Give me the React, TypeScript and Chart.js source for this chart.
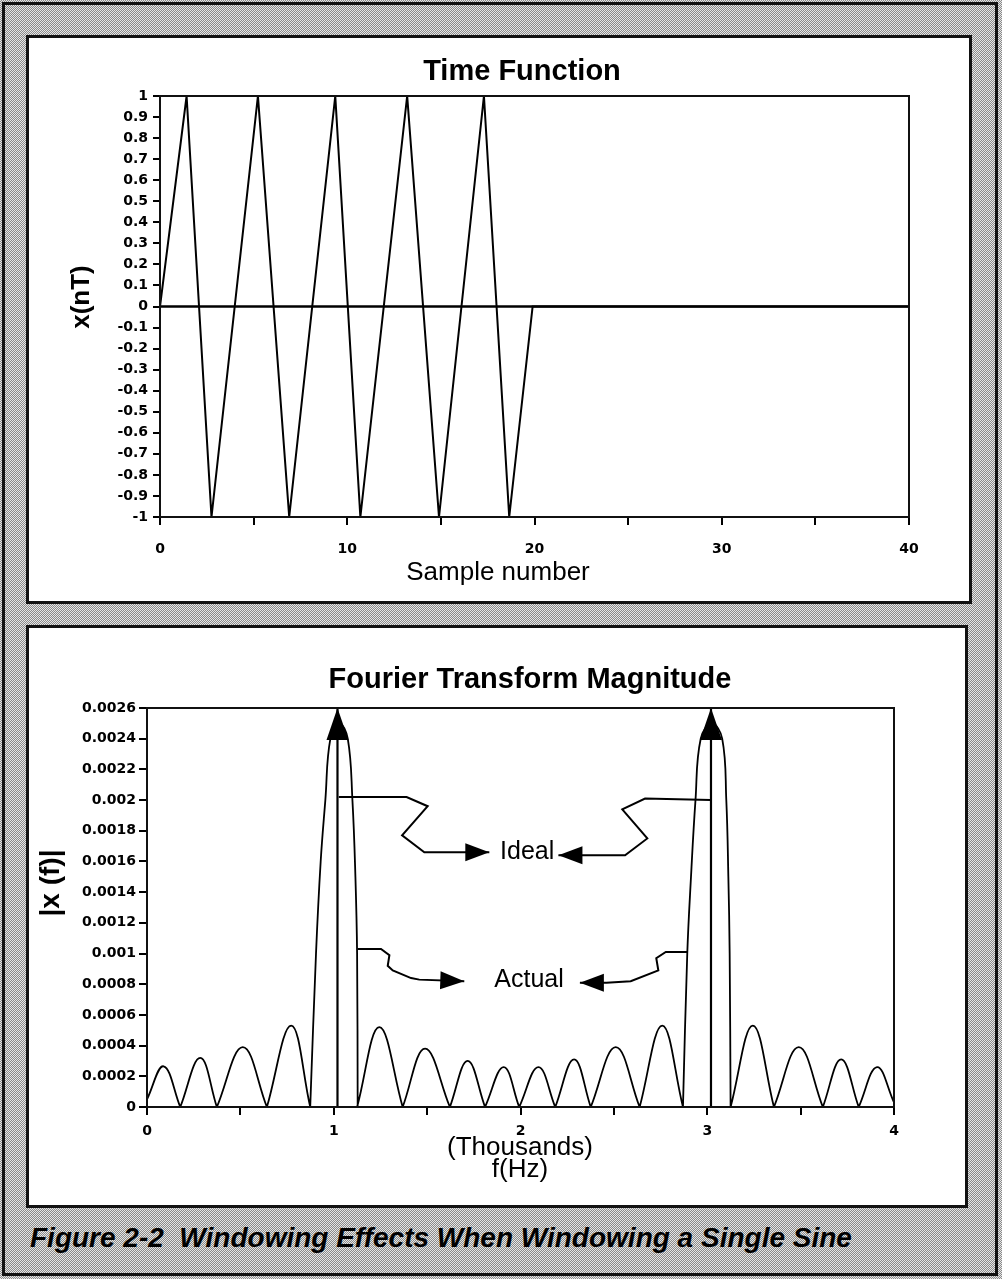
import React, { useEffect, useRef } from 'react';
import { Chart, registerables } from 'chart.js';

Chart.register(...registerables);

/* ================= Time Function (top chart) ================= */
const timeVertexX = [0, 1.42, 2.75, 5.23, 6.9, 9.36, 10.7, 13.2, 14.9, 17.3, 18.65, 19.9, 40];
const timeVertexY = [0, 1, -1, 1, -1, 1, -1, 1, -1, 1, -1, 0, 0];
const timeZeroX = [0, 40];
const timeZeroY = [0, 0];
const timeXRange = [0, 40];
const timeYRange = [-1, 1];
const timeXStep = 5;
const timeXLabelStep = 10;
const timeYStep = 0.1;

/* ================= Fourier Transform Magnitude (bottom chart) ================= */
const freqXRange = [0, 4];
const freqYRange = [0, 0.0026];
const freqXStep = 0.5;
const freqYStep = 0.0002;

const sideLobeStartX = [0, 0.178, 0.374, 0.642, 1.125, 1.369, 1.622, 1.81, 1.993, 2.186, 2.376, 2.638, 3.125, 3.357, 3.619, 3.811];
const sideLobeStartY = [0.00005, 0, 0, 0, 0, 0, 0, 0, 0, 0, 0, 0, 0, 0, 0, 0];
const sideLobePeakX = [0.089, 0.285, 0.513, 0.772, 1.244, 1.489, 1.717, 1.91, 2.096, 2.287, 2.51, 2.759, 3.244, 3.49, 3.717, 3.909];
const sideLobePeakY = [0.000265, 0.00032, 0.00039, 0.00053, 0.00052, 0.00038, 0.0003, 0.00026, 0.00026, 0.00031, 0.00039, 0.00053, 0.00053, 0.00039, 0.00031, 0.00026];
const sideLobeEndX = [0.178, 0.374, 0.642, 0.874, 1.369, 1.622, 1.81, 1.993, 2.186, 2.376, 2.638, 2.87, 3.357, 3.619, 3.811, 4];
const sideLobeEndY = [0, 0, 0, 0, 0, 0, 0, 0, 0, 0, 0, 0, 0, 0, 0, 0.00003];

const mainLobe1X = [0.874, 0.905, 0.93, 0.955, 0.982, 1.03, 1.075, 1.1, 1.116, 1.125, 1.128];
const mainLobe1Y = [0, 0.001, 0.0016, 0.002, 0.0024, 0.0025, 0.0024, 0.002, 0.0015, 0.001, 0];
const mainLobe3X = [2.87, 2.893, 2.913, 2.937, 2.965, 3.025, 3.08, 3.102, 3.113, 3.12, 3.125];
const mainLobe3Y = [0, 0.001, 0.0015, 0.002, 0.0024, 0.0025, 0.0024, 0.002, 0.0015, 0.001, 0];

const idealX = [1.02, 3.02];
const idealY = [0.0026, 0.0026];

const idealLeftPathX = [1.027, 1.39, 1.503, 1.366, 1.485, 1.833];
const idealLeftPathY = [0.00202, 0.00202, 0.00196, 0.00177, 0.00166, 0.00166];
const idealRightPathX = [3.018, 2.667, 2.545, 2.679, 2.56, 2.203];
const idealRightPathY = [0.002, 0.00201, 0.00194, 0.00175, 0.00164, 0.00164];
const actualLeftPathX = [1.128, 1.253, 1.298, 1.289, 1.316, 1.414, 1.458, 1.699];
const actualLeftPathY = [0.00103, 0.00103, 0.00099, 0.00092, 0.00089, 0.00084, 0.00083, 0.00082];
const actualRightPathX = [2.893, 2.778, 2.727, 2.738, 2.59, 2.46, 2.318];
const actualRightPathY = [0.00101, 0.00101, 0.00097, 0.00089, 0.00082, 0.00081, 0.00081];

const annotationText = ['Ideal', 'Actual'];
const annotationX = [2.036, 2.046];
const annotationY = [0.00166, 0.00083];

/* ================= helpers ================= */
const toPoints = (xs: number[], ys: number[]) => xs.map((x, i) => ({ x, y: ys[i] }));

function buildSpectrum() {
  const segments: { x: number; y: number | null }[][] = [];
  sideLobeStartX.forEach((sx, i) => {
    segments.push(
      toPoints([sx, sideLobePeakX[i], sideLobeEndX[i]], [sideLobeStartY[i], sideLobePeakY[i], sideLobeEndY[i]])
    );
  });
  segments.push(toPoints(mainLobe1X, mainLobe1Y));
  segments.push(toPoints(mainLobe3X, mainLobe3Y));
  segments.sort((a, b) => a[0].x - b[0].x);
  const out: { x: number; y: number | null }[] = [];
  segments.forEach((seg, i) => {
    if (i > 0) out.push({ x: seg[0].x, y: null });
    seg.forEach((p) => out.push(p));
  });
  return out;
}

function buildIdeal() {
  const out: { x: number; y: number | null }[] = [];
  idealX.forEach((x, i) => {
    if (i > 0) out.push({ x, y: null });
    out.push({ x, y: 0 });
    out.push({ x, y: idealY[i] });
  });
  return out;
}

const tickFont = { family: '"DejaVu Sans"', size: 14, weight: 'bold' as const };

const framePlugin = {
  id: 'plotFrame',
  afterDraw(chart: any) {
    const { ctx, chartArea: a } = chart;
    ctx.save();
    ctx.strokeStyle = '#111';
    ctx.lineWidth = 2;
    ctx.strokeRect(a.left, a.top, a.right - a.left, a.bottom - a.top);
    ctx.restore();
  },
};

const arrowPlugin = {
  id: 'arrowHeads',
  afterDatasetsDraw(chart: any) {
    const ctx = chart.ctx;
    chart.data.datasets.forEach((ds: any, i: number) => {
      const heads = ds.arrowHeads;
      if (!heads) return;
      const meta = chart.getDatasetMeta(i);
      heads.forEach((h: any) => {
        const tip = meta.data[h.index];
        const prev = meta.data[h.index - 1];
        if (!tip || !prev) return;
        const dx = tip.x - prev.x;
        const dy = tip.y - prev.y;
        const len = Math.hypot(dx, dy) || 1;
        const ux = dx / len;
        const uy = dy / len;
        const bx = tip.x - ux * h.length;
        const by = tip.y - uy * h.length;
        ctx.save();
        ctx.fillStyle = '#000';
        ctx.beginPath();
        ctx.moveTo(tip.x, tip.y);
        ctx.lineTo(bx - uy * h.halfWidth, by + ux * h.halfWidth);
        ctx.lineTo(bx + uy * h.halfWidth, by - ux * h.halfWidth);
        ctx.closePath();
        ctx.fill();
        ctx.restore();
      });
    });
  },
};

const textPlugin = {
  id: 'textLayer',
  afterDraw(chart: any, _args: any, opts: any) {
    const ctx = chart.ctx;
    (opts.items || []).forEach((it: any) => {
      let x = it.x;
      let y = it.y;
      if (it.data) {
        x = chart.scales.x.getPixelForValue(it.x);
        y = chart.scales.y.getPixelForValue(it.y);
      }
      ctx.save();
      ctx.font = it.font;
      ctx.fillStyle = '#000';
      ctx.textAlign = 'center';
      ctx.textBaseline = 'middle';
      ctx.translate(x, y);
      if (it.rotate) ctx.rotate(it.rotate);
      ctx.fillText(it.text, 0, 0);
      ctx.restore();
    });
  },
};

const axisGrid = (tickLength: number) => ({
  display: true,
  drawOnChartArea: false,
  drawTicks: true,
  tickLength,
  color: '#000',
  lineWidth: 2,
});
const axisBorder = { display: true, color: '#000', width: 2 };

function timeConfig(): any {
  return {
    type: 'line',
    data: {
      datasets: [
        {
          label: 'zero',
          data: toPoints(timeZeroX, timeZeroY),
          borderColor: '#000',
          borderWidth: 2.5,
          pointRadius: 0,
          tension: 0,
        },
        {
          label: 'x(nT)',
          data: toPoints(timeVertexX, timeVertexY),
          borderColor: '#000',
          borderWidth: 2,
          pointRadius: 0,
          tension: 0,
        },
      ],
    },
    options: {
      responsive: false,
      animation: false,
      devicePixelRatio: 1,
      events: [],
      layout: { padding: { top: 58, right: 60, bottom: 0, left: 0 } },
      plugins: {
        legend: { display: false },
        tooltip: { enabled: false },
        title: { display: false },
        textLayer: {
          items: [
            { text: 'Time Function', x: 493, y: 34, font: 'bold 29px "Liberation Sans"' },
            { text: 'x(nT)', x: 53, y: 259, rotate: -Math.PI / 2, font: 'bold 26px "Liberation Sans"' },
            { text: 'Sample number', x: 469, y: 535, font: '26px "Liberation Sans"' },
          ],
        },
      },
      scales: {
        x: {
          type: 'linear',
          min: timeXRange[0],
          max: timeXRange[1],
          afterFit: (s: any) => {
            s.height = 84;
          },
          ticks: {
            stepSize: timeXStep,
            autoSkip: false,
            maxRotation: 0,
            padding: 16,
            color: '#000',
            font: tickFont,
            callback: (v: number) => (Math.round(v) % timeXLabelStep === 0 ? String(Math.round(v)) : ''),
          },
          grid: axisGrid(8),
          border: axisBorder,
        },
        y: {
          type: 'linear',
          min: timeYRange[0],
          max: timeYRange[1],
          afterFit: (s: any) => {
            s.width = 131;
          },
          ticks: {
            stepSize: timeYStep,
            autoSkip: false,
            padding: 5,
            color: '#000',
            font: tickFont,
            callback: (v: number) => String(Math.round(v * 10) / 10),
          },
          grid: axisGrid(7),
          border: axisBorder,
        },
      },
    },
    plugins: [framePlugin, textPlugin],
  };
}

function freqConfig(): any {
  const connector = (xs: number[], ys: number[]) => ({
    data: toPoints(xs, ys),
    borderColor: '#000',
    borderWidth: 2,
    pointRadius: 0,
    tension: 0,
    arrowHeads: [{ index: xs.length - 1, length: 24, halfWidth: 9 }],
  });
  return {
    type: 'line',
    data: {
      datasets: [
        {
          label: 'Actual',
          data: buildSpectrum(),
          borderColor: '#000',
          borderWidth: 1.8,
          pointRadius: 0,
          tension: 0.4,
          spanGaps: false,
        },
        {
          label: 'Ideal',
          data: buildIdeal(),
          borderColor: '#000',
          borderWidth: 2.2,
          pointRadius: 0,
          tension: 0,
          spanGaps: false,
          arrowHeads: [
            { index: 1, length: 32, halfWidth: 11 },
            { index: 4, length: 32, halfWidth: 11 },
          ],
        },
        connector(idealLeftPathX, idealLeftPathY),
        connector(idealRightPathX, idealRightPathY),
        connector(actualLeftPathX, actualLeftPathY),
        connector(actualRightPathX, actualRightPathY),
      ],
    },
    options: {
      responsive: false,
      animation: false,
      devicePixelRatio: 1,
      events: [],
      layout: { padding: { top: 80, right: 71, bottom: 0, left: 0 } },
      plugins: {
        legend: { display: false },
        tooltip: { enabled: false },
        title: { display: false },
        textLayer: {
          items: [
            { text: 'Fourier Transform Magnitude', x: 501, y: 52, font: 'bold 29px "Liberation Sans"' },
            { text: '|x (f)|', x: 22, y: 255, rotate: -Math.PI / 2, font: 'bold 28px "Liberation Sans"' },
            { text: '(Thousands)', x: 491, y: 520, font: '26px "Liberation Sans"' },
            { text: 'f(Hz)', x: 491, y: 542, font: '26px "Liberation Sans"' },
            ...annotationText.map((t, i) => ({
              text: t,
              x: annotationX[i],
              y: annotationY[i],
              data: true,
              font: '25px "Liberation Sans"',
            })),
          ],
        },
      },
      scales: {
        x: {
          type: 'linear',
          min: freqXRange[0],
          max: freqXRange[1],
          afterFit: (s: any) => {
            s.height = 98;
          },
          ticks: {
            stepSize: freqXStep,
            autoSkip: false,
            maxRotation: 0,
            padding: 8,
            color: '#000',
            font: tickFont,
            callback: (v: number) => (Math.abs(v - Math.round(v)) < 1e-9 ? String(Math.round(v)) : ''),
          },
          grid: axisGrid(8),
          border: axisBorder,
        },
        y: {
          type: 'linear',
          min: freqYRange[0],
          max: freqYRange[1],
          afterFit: (s: any) => {
            s.width = 118;
          },
          ticks: {
            stepSize: freqYStep,
            autoSkip: false,
            padding: 3,
            color: '#000',
            font: tickFont,
            callback: (v: number) => String(Math.round(v * 1e4) / 1e4),
          },
          grid: axisGrid(8),
          border: axisBorder,
        },
      },
    },
    plugins: [framePlugin, arrowPlugin, textPlugin],
  };
}

function ChartCanvas({ build, width, height }: { build: () => any; width: number; height: number }) {
  const ref = useRef<HTMLCanvasElement | null>(null);
  useEffect(() => {
    if (!ref.current) return;
    const chart = new Chart(ref.current, build());
    return () => chart.destroy();
  }, []);
  return <canvas ref={ref} width={width} height={height} style={{ display: 'block', width, height }} />;
}

const stipple: React.CSSProperties = {
  backgroundColor: '#b8b8b8',
  backgroundImage: 'repeating-conic-gradient(#8a8a8a 0% 25%, #e6e6e6 0% 50%)',
  backgroundSize: '2px 2px',
};

export default function App() {
  return (
    <div style={{ position: 'absolute', left: 0, top: 0, width: 1002, height: 1279, overflow: 'hidden', ...stipple }}>
      <div
        style={{
          position: 'absolute',
          left: 2,
          top: 2,
          width: 996,
          height: 1274,
          border: '3px solid #111',
          boxSizing: 'border-box',
        }}
      />
      <div
        style={{
          position: 'absolute',
          left: 26,
          top: 35,
          width: 946,
          height: 569,
          border: '3px solid #111',
          boxSizing: 'border-box',
          background: '#fff',
        }}
      >
        <ChartCanvas build={timeConfig} width={940} height={563} />
      </div>
      <div
        style={{
          position: 'absolute',
          left: 26,
          top: 625,
          width: 942,
          height: 583,
          border: '3px solid #111',
          boxSizing: 'border-box',
          background: '#fff',
        }}
      >
        <ChartCanvas build={freqConfig} width={936} height={577} />
      </div>
      <div
        style={{
          position: 'absolute',
          left: 30,
          top: 1222,
          height: 36,
          lineHeight: '36px',
          font: 'italic bold 28px "Liberation Sans", Arial, sans-serif',
          color: '#000',
          whiteSpace: 'pre',
        }}
      >
        {'Figure 2-2  Windowing Effects When Windowing a Single Sine'}
      </div>
    </div>
  );
}
